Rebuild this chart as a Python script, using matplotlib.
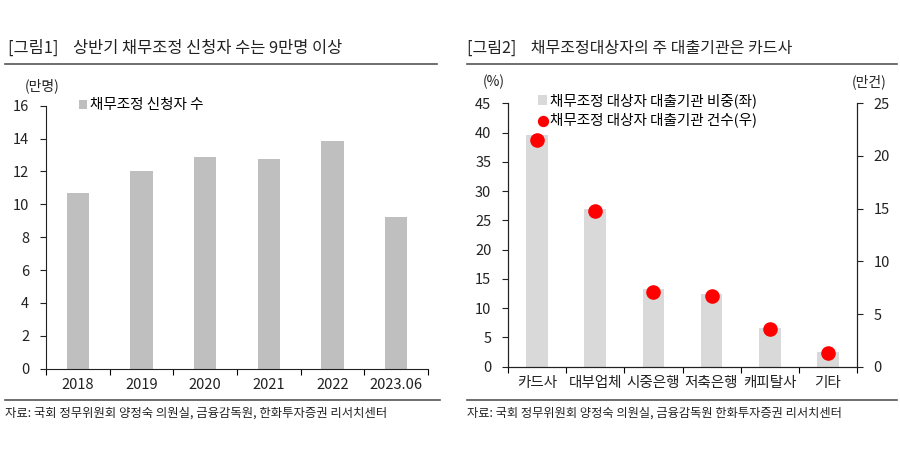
import numpy as np
import matplotlib
matplotlib.use("Agg")
import matplotlib.pyplot as plt
from matplotlib.lines import Line2D

plt.rcParams['font.family'] = ['Noto Sans CJK KR', 'DejaVu Sans']

# [그림1] 데이터
years = ['2018', '2019', '2020', '2021', '2022', '2023.06']
applicants = [10.7, 12.0, 12.9, 12.76, 13.87, 9.23]

# [그림2] 데이터
lenders = ['카드사', '대부업체', '시중은행', '저축은행', '캐피탈사', '기타']
share_pct = [39.6, 26.9, 13.2, 12.5, 6.6, 2.5]
count_10k = [21.55, 14.75, 7.09, 6.68, 3.54, 1.30]

W, H = 900, 450
fig = plt.figure(figsize=(9, 4.5), dpi=100)


def px_axes(x0, y_top, x1, y_bot):
    return fig.add_axes([x0 / W, 1 - y_bot / H, (x1 - x0) / W, (y_bot - y_top) / H])


def cat_ticks(ax, n):
    ax.set_xlim(-0.5, n - 0.5)
    ax.set_xticks(np.arange(n))
    ax.set_xticks(np.arange(n + 1) - 0.5, minor=True)
    ax.tick_params(axis='x', which='major', length=0, pad=7)
    ax.tick_params(axis='x', which='minor', length=4, direction='out', width=0.8)


# ---- 왼쪽 차트 ----
fig.text(8 / W, 1 - 48 / H, '[그림1]    상반기 채무조정 신청자 수는 9만명 이상',
         fontsize=11.8, va='center', ha='left', color='#222222')
fig.add_artist(Line2D([5 / W, 437 / W], [1 - 64 / H, 1 - 64 / H], color='#555555', lw=1.2))

ax1 = px_axes(46, 105.7, 428, 368.7)
x = np.arange(len(years))
ax1.bar(x, applicants, width=0.35, color='#bfbfbf', label='채무조정 신청자 수')
ax1.set_ylim(0, 16)
ax1.set_yticks(np.arange(0, 17, 2))
cat_ticks(ax1, len(years))
ax1.set_xticklabels(years)
ax1.tick_params(axis='y', length=4, width=0.8, pad=8)
ax1.tick_params(labelsize=10.5, colors='#222222')
for s in ['top', 'right']:
    ax1.spines[s].set_visible(False)
for s in ['left', 'bottom']:
    ax1.spines[s].set_color('#222222')
ax1.legend(loc='upper left', bbox_to_anchor=(0.07, 1.05), frameon=False, fontsize=10.5,
           handlelength=0.6, handleheight=0.6, handletextpad=0.2, borderaxespad=0)
fig.text(25 / W, 1 - 86 / H, '(만명)', fontsize=10, va='center', ha='left', color='#222222')

fig.add_artist(Line2D([5 / W, 440 / W], [1 - 400 / H, 1 - 400 / H], color='#555555', lw=1.2))
fig.text(5 / W, 1 - 413 / H, '자료: 국회 정무위원회 양정숙 의원실, 금융감독원, 한화투자증권 리서치센터',
         fontsize=8.9, va='center', ha='left', color='#222222')

# ---- 오른쪽 차트 ----
fig.text(467 / W, 1 - 48 / H, '[그림2]    채무조정대상자의 주 대출기관은 카드사',
         fontsize=11.5, va='center', ha='left', color='#222222')
fig.add_artist(Line2D([467 / W, 897 / W], [1 - 64 / H, 1 - 64 / H], color='#555555', lw=1.2))

ax2 = px_axes(508, 103.3, 857, 366.7)
x2 = np.arange(len(lenders))
ax2.bar(x2, share_pct, width=0.37, color='#d9d9d9', label='채무조정 대상자 대출기관 비중(좌)')
ax2.set_ylim(0, 45)
ax2.set_yticks(np.arange(0, 46, 5))
cat_ticks(ax2, len(lenders))
ax2.set_xticklabels(lenders)
ax2.tick_params(axis='y', length=4, width=0.8, pad=8)
ax2.tick_params(labelsize=10.5, colors='#222222')
ax2.spines['top'].set_visible(False)

ax3 = ax2.twinx()
ax3.scatter(x2, count_10k, s=90, color='#ff0000', zorder=3, label='채무조정 대상자 대출기관 건수(우)')
ax3.set_ylim(0, 25)
ax3.set_yticks(np.arange(0, 26, 5))
ax3.tick_params(axis='y', length=4, width=0.8, pad=8, labelsize=10.5, colors='#222222')
ax3.spines['top'].set_visible(False)
for a in (ax2, ax3):
    for s in ['left', 'bottom', 'right']:
        a.spines[s].set_color('#222222')

h1, l1 = ax2.get_legend_handles_labels()
h2, l2 = ax3.get_legend_handles_labels()
ax3.legend(h1 + h2, l1 + l2, loc='upper left', bbox_to_anchor=(0.07, 1.06), frameon=False,
           fontsize=10.5, handlelength=0.6, handleheight=0.6, handletextpad=0.2,
           borderaxespad=0, labelspacing=0.3, markerscale=0.75)
fig.text(483 / W, 1 - 82 / H, '(%)', fontsize=10, va='center', ha='left', color='#222222')
fig.text(852 / W, 1 - 82 / H, '(만건)', fontsize=10, va='center', ha='left', color='#222222')

fig.add_artist(Line2D([467 / W, 897 / W], [1 - 400 / H, 1 - 400 / H], color='#555555', lw=1.2))
fig.text(467 / W, 1 - 413 / H, '자료: 국회 정무위원회 양정숙 의원실, 금융감독원 한화투자증권 리서치센터',
         fontsize=8.8, va='center', ha='left', color='#222222')

fig.savefig('out.png', dpi=100, facecolor='white')
